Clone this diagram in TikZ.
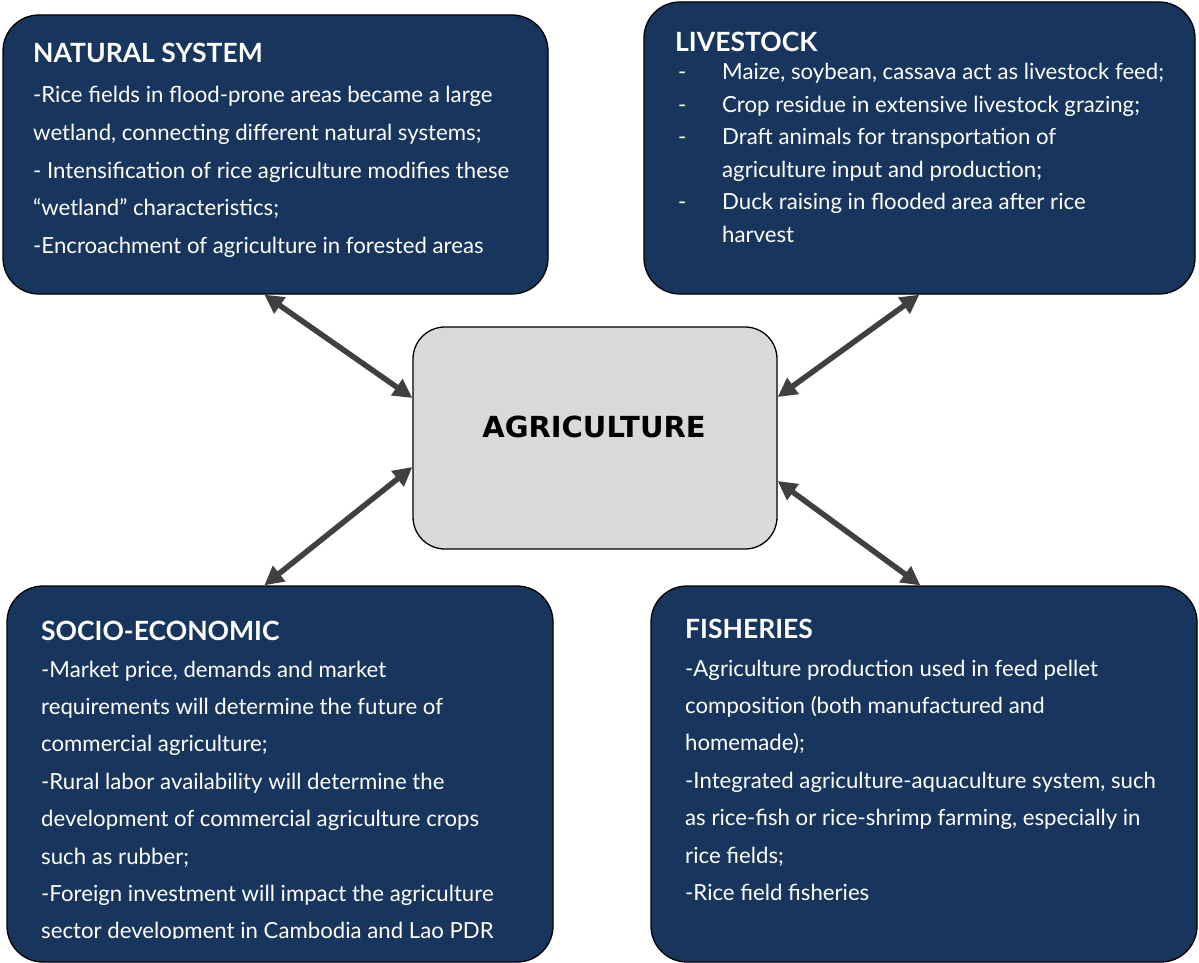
\documentclass[tikz,border=0pt]{standalone}
\usepackage{fontspec}
\setmainfont{Lato}
\newfontfamily\agrifont{DejaVu Sans}
\usetikzlibrary{arrows.meta,calc}
\definecolor{navy}{RGB}{24,54,93}
\definecolor{agrigray}{RGB}{217,217,217}
\definecolor{arrowgray}{RGB}{64,64,64}
\tikzset{
  bluebox/.style={draw=black,line width=1.3pt,fill=navy,rounded corners=36pt,inner sep=0pt},
  centerbox/.style={draw=black,line width=1.3pt,fill=agrigray,rounded corners=32pt,inner sep=0pt},
  boxtitle/.style={anchor=base west,inner sep=0pt,text=white,font=\fontsize{26.5}{30}\selectfont\bfseries},
  boxline/.style={anchor=base west,inner sep=0pt,text=white,font=\fontsize{22.2}{26}\selectfont},
  link/.style={draw=arrowgray,line width=5.5pt,{Triangle[length=19pt,width=19pt]}-{Triangle[length=19pt,width=19pt]}}
}
\begin{document}
\begin{tikzpicture}[x=1pt,y=-1pt]
\useasboundingbox (0,0) rectangle (1199,963);
% boxes
\node[bluebox,minimum width=545pt,minimum height=279pt] (nat) at (275.5,154.5) {};
\node[bluebox,minimum width=551pt,minimum height=292pt] (liv) at (919.5,148) {};
\node[centerbox,minimum width=364pt,minimum height=222pt] (agri) at (595,438) {};
\node[bluebox,minimum width=546pt,minimum height=376pt] (soc) at (280,774) {};
\node[bluebox,minimum width=546pt,minimum height=376pt] (fis) at (924,774) {};
% center label
\node[anchor=base,inner sep=0pt,font=\fontsize{29}{34}\selectfont\agrifont\bfseries] (agrilabel) at (594,437) {AGRICULTURE};
% NATURAL SYSTEM
\node[boxtitle] (natt) at (33,63) {NATURAL SYSTEM};
\foreach \t [count=\i from 0] in {
  {-Rice fields in flood-prone areas became a large},
  {wetland, connecting different natural systems;},
  {- Intensification of rice agriculture modifies these},
  {“wetland” characteristics;},
  {-Encroachment of agriculture in forested areas}}
  \node[boxline] (natl\i) at (33,103+37.5*\i) {\t};
% LIVESTOCK
\node[boxtitle] (livt) at (675,52) {LIVESTOCK};
\foreach \d/\t [count=\i from 0] in {
  -/{Maize, soybean, cassava act as livestock feed;},
  -/{Crop residue in extensive livestock grazing;},
  -/{Draft animals for transportation of},
  {}/{agriculture input and production;},
  -/{Duck raising in flooded area after rice},
  {}/{harvest}}
  {
  \node[boxline] (livd\i) at (678,80+32.4*\i) {\d};
  \node[boxline] (livl\i) at (722,80+32.4*\i) {\t};
  }
% SOCIO-ECONOMIC
\node[boxtitle] (soct) at (41,640) {SOCIO-ECONOMIC};
\begin{scope}
\clip (0,0) rectangle (1199,938.5);
\foreach \t [count=\i from 0] in {
  {-Market price, demands and market},
  {requirements will determine the future of},
  {commercial agriculture;},
  {-Rural labor availability will determine the},
  {development of commercial agriculture crops},
  {such as rubber;},
  {-Foreign investment will impact the agriculture},
  {sector development in Cambodia and Lao PDR}}
  \node[boxline] (socl\i) at (41,677+37.4*\i) {\t};
\end{scope}
% FISHERIES
\node[boxtitle] (fist) at (685,638) {FISHERIES};
\foreach \t [count=\i from 0] in {
  {-Agriculture production used in feed pellet},
  {composition (both manufactured and},
  {homemade);},
  {-Integrated agriculture-aquaculture system, such},
  {as rice-fish or rice-shrimp farming, especially in},
  {rice fields;},
  {-Rice field fisheries}}
  \node[boxline] (fisl\i) at (685,676+37.4*\i) {\t};
% connectors
\draw[link] ($(nat.south west)+(262,0)$) -- ($(agri.west)+(0,-40)$);
\draw[link] ($(soc.north west)+(258,0)$) -- ($(agri.west)+(0,29)$);
\draw[link] ($(liv.south west)+(276,0)$) -- ($(agri.east)+(0,-41)$);
\draw[link] ($(agri.east)+(0,43)$) -- ($(fis.north west)+(270,0)$);
\end{tikzpicture}
\end{document}
